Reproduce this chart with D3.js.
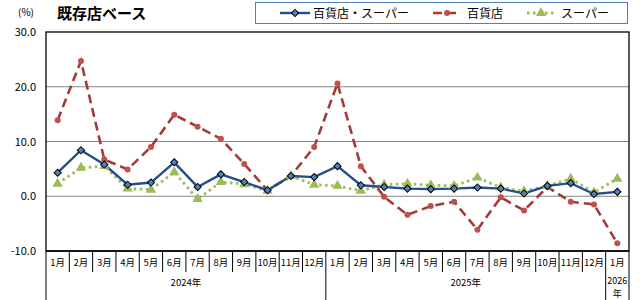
<!DOCTYPE html>
<html><head><meta charset="utf-8">
<script src="https://cdn.jsdelivr.net/npm/d3@7/dist/d3.min.js"></script>
<style>body{margin:0;background:#fff}svg{display:block}text{font-family:"Noto Sans CJK JP","DejaVu Sans",sans-serif}</style>
</head><body><svg id="c" width="640" height="300"></svg>
<script>
const months = ["1月","2月","3月","4月","5月","6月","7月","8月","9月","10月","11月","12月","1月","2月","3月","4月","5月","6月","7月","8月","9月","10月","11月","12月","1月"];
const years = [{label:"2024年", start:0, end:12},{label:"2025年", start:12, end:24},{label:"2026\n年", start:24, end:25}];
const total = [4.3,8.4,5.8,2.1,2.5,6.2,1.7,4.0,2.6,1.1,3.7,3.5,5.5,2.0,1.7,1.4,1.3,1.4,1.6,1.4,0.5,1.9,2.4,0.4,0.8];
const dept = [13.9,24.7,6.7,4.9,9.0,14.9,12.7,10.5,5.9,1.1,3.7,9.0,20.6,5.5,-0.1,-3.4,-1.8,-1.0,-6.1,-0.2,-2.6,1.7,-1.0,-1.5,-8.6];
const superm = [2.3,5.2,5.5,1.4,1.2,4.4,-0.5,2.6,2.2,1.0,3.7,2.1,1.9,1.0,2.1,2.3,2.0,1.9,3.4,1.6,0.9,1.9,3.2,0.7,3.2];
const yTicks = [30,20,10,0,-10];
const seriesNames = ["百貨店・スーパー","百貨店","スーパー"];

const svg = d3.select("#c");
const L=46, R=629, T=32, B=251;
const x = d3.scaleBand().domain(d3.range(months.length)).range([L,R]);
const y = d3.scaleLinear().domain([-10,30]).range([B,T]);

svg.append("g").selectAll("line").data(yTicks.filter(v=>v>-10&&v<30)).join("line")
  .attr("x1",L).attr("x2",R).attr("y1",d=>y(d)).attr("y2",d=>y(d))
  .attr("stroke","#868686").attr("stroke-width",1.2);
svg.append("rect").attr("x",L).attr("y",T).attr("width",R-L).attr("height",B-T)
  .attr("fill","none").attr("stroke","#000").attr("stroke-width",1.3);
svg.append("g").selectAll("text").data(yTicks).join("text")
  .attr("x",36).attr("y",d=>y(d)+4).attr("text-anchor","end")
  .attr("font-size",11).attr("fill","#000").text(d=>d.toFixed(1));
svg.append("text").attr("x",26).attr("y",16).attr("text-anchor","middle").attr("font-size",10).text("(%)");
svg.append("text").attr("x",57).attr("y",19).attr("font-size",15).attr("font-weight","bold").text("既存店ベース");

const xa = svg.append("g");
xa.append("line").attr("x1",L).attr("x2",R).attr("y1",B).attr("y2",B).attr("stroke","#000").attr("stroke-width",1.3);
d3.range(months.length+1).forEach(i=>{
  const xx = i<months.length ? x(i) : R;
  const isYear = years.some(yr=>yr.start===i) || i===months.length;
  xa.append("line").attr("x1",xx).attr("x2",xx).attr("y1",B).attr("y2",isYear?300:272).attr("stroke","#000").attr("stroke-width",1);
});
xa.selectAll("text.m").data(months).join("text").attr("class","m")
  .attr("x",(d,i)=>x(i)+x.bandwidth()/2).attr("y",266).attr("text-anchor","middle").attr("font-size",9.5).text(d=>d);
years.forEach(yr=>{
  const cx=(x(yr.start)+(yr.end<months.length?x(yr.end):R))/2;
  const lines=yr.label.split("\n");
  lines.forEach((t,k)=>xa.append("text").attr("x",cx).attr("y",(lines.length>1?284:286)+k*13).attr("text-anchor","middle").attr("font-size",lines.length>1?9:9.5).text(t));
});

const cx = i=>x(i)+x.bandwidth()/2;
const line = d3.line().x((d,i)=>cx(i)).y(d=>y(d));

svg.append("path").attr("d",line(superm)).attr("fill","none").attr("stroke","#9bbb59").attr("stroke-width",2.8).attr("stroke-dasharray","2.5,3.5");
svg.append("path").attr("d",line(dept)).attr("fill","none").attr("stroke","#a33b3a").attr("stroke-width",2.6).attr("stroke-dasharray","9,5");
svg.append("path").attr("d",line(total)).attr("fill","none").attr("stroke","#254f8a").attr("stroke-width",2.4);

const tri = d3.symbol().type(d3.symbolTriangle).size(46);
svg.append("g").selectAll("path").data(superm).join("path")
  .attr("transform",(d,i)=>`translate(${cx(i)},${y(d)})`).attr("d",tri).attr("fill","#9bbb59");
svg.append("g").selectAll("circle").data(dept).join("circle")
  .attr("cx",(d,i)=>cx(i)).attr("cy",d=>y(d)).attr("r",3).attr("fill","#c0504d");
const dia = d3.symbol().type(d3.symbolSquare).size(26);
svg.append("g").selectAll("path").data(total).join("path")
  .attr("transform",(d,i)=>`translate(${cx(i)},${y(d)}) rotate(45)`).attr("d",dia).attr("fill","#4f81bd").attr("stroke","#000").attr("stroke-width",1);

const lg = svg.append("g");
lg.append("rect").attr("x",255.5).attr("y",2.5).attr("width",372).attr("height",21).attr("fill","#fff").attr("stroke","#4f81bd").attr("stroke-width",1);
const ly=13;
lg.append("line").attr("x1",280).attr("x2",310).attr("y1",ly).attr("y2",ly).attr("stroke","#254f8a").attr("stroke-width",2.4);
lg.append("path").attr("transform",`translate(295,${ly}) rotate(45)`).attr("d",dia).attr("fill","#4f81bd").attr("stroke","#000").attr("stroke-width",1);
lg.append("text").attr("x",313).attr("y",ly+4.5).attr("font-size",12).text(seriesNames[0]);
lg.append("line").attr("x1",433).attr("x2",461).attr("y1",ly).attr("y2",ly).attr("stroke","#a33b3a").attr("stroke-width",2.6).attr("stroke-dasharray","9,5");
lg.append("circle").attr("cx",447).attr("cy",ly).attr("r",3).attr("fill","#c0504d");
lg.append("text").attr("x",467).attr("y",ly+4.5).attr("font-size",12).text(seriesNames[1]);
lg.append("line").attr("x1",527).attr("x2",556).attr("y1",ly).attr("y2",ly).attr("stroke","#9bbb59").attr("stroke-width",2.8).attr("stroke-dasharray","2.5,3.5");
lg.append("path").attr("transform",`translate(541,${ly})`).attr("d",tri).attr("fill","#9bbb59");
lg.append("text").attr("x",561).attr("y",ly+4.5).attr("font-size",12).text(seriesNames[2]);
</script></body></html>
